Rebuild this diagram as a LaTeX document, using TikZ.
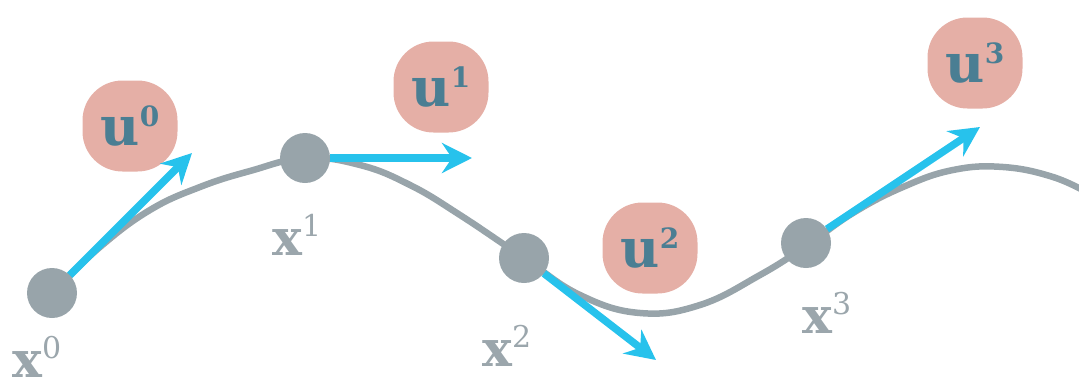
\documentclass[tikz,border=0pt]{standalone}
\usepackage{fontspec}
\setmainfont{DejaVu Serif}
\usetikzlibrary{arrows.meta}
\definecolor{boxpink}{HTML}{E5AFA6}
\definecolor{uteal}{HTML}{4A7E93}
\definecolor{nodegray}{HTML}{98A4AA}
\definecolor{lblgray}{HTML}{9BA6AC}
\definecolor{arrblue}{HTML}{27C2EC}
\newcommand{\supr}[1]{\raisebox{19pt}{\fontsize{30}{30}\selectfont\mdseries #1}}
\newcommand{\supb}[1]{\raisebox{19pt}{\fontsize{28}{28}\selectfont\bfseries #1}}
\begin{document}
\begin{tikzpicture}[x=1pt,y=-1pt,
  ubox/.style={fill=boxpink, rounded corners=40pt, minimum width=95pt, minimum height=91pt,
    inner sep=0pt, text=uteal, font=\fontsize{54}{54}\selectfont\bfseries},
  stnode/.style={circle, fill=nodegray, minimum size=50pt, inner sep=0pt},
  xlbl/.style={anchor=base west, inner sep=0pt, text=lblgray, font=\fontsize{50}{50}\selectfont\bfseries},
  traj/.style={draw=nodegray, line width=6.5pt, line cap=round},
  ctrl/.style={draw=arrblue, line width=7.5pt, -{Stealth[length=30pt,width=30pt,inset=10pt]}}]
\useasboundingbox (0,0) rectangle (1079,386);
% control boxes
\node[ubox] (u0) at (130,126) {u\supb{0}};
\node[ubox] (u1) at (441,87) {u\supb{1}};
\node[ubox] (u2) at (650,248) {u\supb{2}};
\node[ubox] (u3) at (975,63) {u\supb{3}};
% trajectory
\draw[traj] plot[smooth, tension=0.7] coordinates {(52,293) (100,247) (150,210) (200,187) (250,171) (305,158) (360,165) (410,185) (460,215) (524,258) (580,295) (640,313) (700,305) (760,275) (806,246) (853,213) (903,187) (953,170) (1003,167) (1053,177) (1090,194)};
% states
\node[stnode] (x0) at (52,293) {};
\node[stnode] (x1) at (305,158) {};
\node[stnode] (x2) at (524,258) {};
\node[stnode] (x3) at (806,243) {};
% labels
\node[xlbl] (l0) at (12,377) {x\supr{0}};
\node[xlbl] (l1) at (272,255) {x\supr{1}};
\node[xlbl] (l2) at (482,366) {x\supr{2}};
\node[xlbl] (l3) at (802,333) {x\supr{3}};
% control arrows
\coordinate (t0) at (192,153);
\coordinate (t1) at (472,158);
\coordinate (t2) at (656,360);
\coordinate (t3) at (980,127);
\draw[ctrl] (x0) -- (t0);
\draw[ctrl] (x1) -- (t1);
\draw[ctrl] (x2) -- (t2);
\draw[ctrl] (x3) -- (t3);
\end{tikzpicture}
\end{document}
